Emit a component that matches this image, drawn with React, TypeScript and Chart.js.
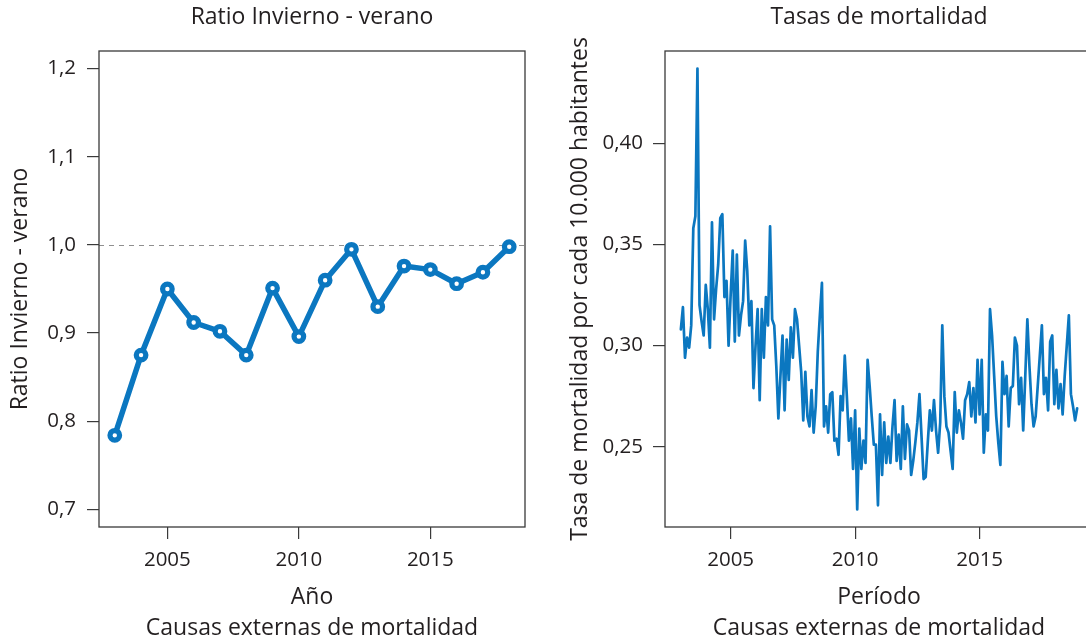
import React, { useEffect, useRef } from 'react';
import { Chart, registerables } from 'chart.js';

Chart.register(...registerables);

// ---------- data ----------
const YEARS = [2003, 2004, 2005, 2006, 2007, 2008, 2009, 2010, 2011, 2012, 2013, 2014, 2015, 2016, 2017, 2018];
const WINTER_SUMMER_RATIO = [0.784, 0.875, 0.950, 0.912, 0.902, 0.875, 0.951, 0.896, 0.960, 0.995, 0.930, 0.976, 0.972, 0.956, 0.969, 0.998];
const RATIO_TICKS = [0.7, 0.8, 0.9, 1.0, 1.1, 1.2];
const RATIO_AXIS_RANGE = [0.7, 1.2];
const REFERENCE_RATIO = 1.0;
const YEAR_TICKS = [2005, 2010, 2015];

const MONTHLY_START_YEAR = 2003;
// monthly mortality rate per 10.000 inhabitants, Jan 2003 - Dec 2018
const MORTALITY_RATE = [
  0.308, 0.319, 0.294, 0.304, 0.299, 0.310, 0.358, 0.364, 0.437, 0.320, 0.312, 0.305, // 2003
  0.330, 0.318, 0.299, 0.361, 0.313, 0.328, 0.340, 0.363, 0.365, 0.324, 0.332, 0.300, // 2004
  0.325, 0.347, 0.302, 0.345, 0.305, 0.315, 0.322, 0.352, 0.337, 0.310, 0.322, 0.279, // 2005
  0.300, 0.318, 0.273, 0.318, 0.294, 0.324, 0.310, 0.359, 0.313, 0.310, 0.290, 0.264, // 2006
  0.285, 0.305, 0.268, 0.303, 0.283, 0.309, 0.294, 0.318, 0.313, 0.300, 0.287, 0.263, // 2007
  0.287, 0.265, 0.260, 0.278, 0.257, 0.270, 0.297, 0.315, 0.331, 0.260, 0.270, 0.257, // 2008
  0.276, 0.277, 0.253, 0.254, 0.246, 0.275, 0.268, 0.295, 0.275, 0.253, 0.264, 0.239, // 2009
  0.268, 0.219, 0.259, 0.239, 0.253, 0.242, 0.293, 0.280, 0.265, 0.251, 0.251, 0.221, // 2010
  0.266, 0.236, 0.262, 0.242, 0.255, 0.242, 0.260, 0.273, 0.243, 0.256, 0.239, 0.270, // 2011
  0.244, 0.261, 0.258, 0.236, 0.243, 0.252, 0.262, 0.276, 0.255, 0.234, 0.235, 0.252, // 2012
  0.268, 0.258, 0.273, 0.258, 0.247, 0.262, 0.310, 0.275, 0.260, 0.257, 0.248, 0.239, // 2013
  0.277, 0.257, 0.268, 0.262, 0.254, 0.273, 0.276, 0.282, 0.265, 0.279, 0.262, 0.293, // 2014
  0.266, 0.293, 0.247, 0.266, 0.258, 0.318, 0.305, 0.285, 0.265, 0.252, 0.241, 0.292, // 2015
  0.276, 0.285, 0.260, 0.279, 0.280, 0.304, 0.300, 0.271, 0.284, 0.258, 0.285, 0.313, // 2016
  0.290, 0.271, 0.260, 0.265, 0.280, 0.295, 0.310, 0.276, 0.284, 0.268, 0.302, 0.305, // 2017
  0.271, 0.288, 0.269, 0.281, 0.266, 0.285, 0.300, 0.315, 0.276, 0.270, 0.263, 0.269, // 2018
];
const RATE_TICKS = [0.25, 0.30, 0.35, 0.40];

const LEFT_TITLE = 'Ratio Invierno - verano';
const LEFT_Y_TITLE = 'Ratio Invierno - verano';
const LEFT_X_TITLE = ['Año', 'Causas externas de mortalidad'];
const RIGHT_TITLE = 'Tasas de mortalidad';
const RIGHT_Y_TITLE = 'Tasa de mortalidad por cada 10.000 habitantes';
const RIGHT_X_TITLE = ['Período', 'Causas externas de mortalidad'];

// ---------- styling ----------
const BLUE = '#0b77c0';
const AXIS_COLOR = '#3a3a3a';
const TEXT_COLOR = '#231f20';
const FONT = "'Open Sans', 'DejaVu Sans', sans-serif";
const R_PAD = 0.04; // R's default axis extension

const padRange = (lo: number, hi: number) => {
  const d = (hi - lo) * R_PAD;
  return [lo - d, hi + d];
};

const boxPlugin = {
  id: 'plotBox',
  afterDatasetsDraw(chart: any) {
    const { ctx, chartArea: a } = chart;
    ctx.save();
    ctx.strokeStyle = AXIS_COLOR;
    ctx.lineWidth = 1.3;
    ctx.strokeRect(a.left, a.top, a.right - a.left, a.bottom - a.top);
    ctx.restore();
  },
};

const refLinePlugin = {
  id: 'refLine',
  beforeDatasetsDraw(chart: any, _args: any, opts: any) {
    if (!opts || opts.value == null) return;
    const { ctx, chartArea: a, scales } = chart;
    const y = Math.round(scales.y.getPixelForValue(opts.value)) + 0.5;
    ctx.save();
    ctx.strokeStyle = '#8f8f8f';
    ctx.lineWidth = 1;
    ctx.setLineDash([5, 5]);
    ctx.beginPath();
    ctx.moveTo(a.left, y);
    ctx.lineTo(a.right, y);
    ctx.stroke();
    ctx.restore();
  },
};

function buildOptions(p: {
  title: string;
  yTitle: string;
  xTitle: string[];
  xRange: number[];
  yRange: number[];
  yTicks: number[];
  yDecimals: number;
  yAxisWidth: number;
  xAxisHeight: number;
  padRight: number;
  yLabelPad: number;
  refValue?: number;
}): any {
  return {
    responsive: false,
    maintainAspectRatio: false,
    animation: false,
    layout: { padding: { left: 0, right: p.padRight, top: 0, bottom: 0 } },
    plugins: {
      legend: { display: false },
      tooltip: { enabled: false },
      title: {
        display: true,
        text: p.title,
        color: TEXT_COLOR,
        fullSize: false,
        font: { family: FONT, size: 23, weight: 'normal', lineHeight: 1.2 },
        padding: { top: 4, bottom: 19.4 },
      },
      refLine: { value: p.refValue ?? null },
    },
    scales: {
      x: {
        type: 'linear',
        position: 'bottom',
        min: p.xRange[0],
        max: p.xRange[1],
        afterBuildTicks: (s: any) => {
          s.ticks = YEAR_TICKS.map((v) => ({ value: v }));
        },
        afterFit: (s: any) => {
          s.height = p.xAxisHeight;
        },
        ticks: {
          autoSkip: false,
          maxRotation: 0,
          padding: 9,
          color: TEXT_COLOR,
          font: { family: FONT, size: 20.5 },
          callback: (v: any) => String(v),
        },
        grid: {
          display: true,
          drawOnChartArea: false,
          drawTicks: true,
          tickLength: 12,
          color: AXIS_COLOR,
          lineWidth: 1.2,
        },
        border: { display: false },
        title: {
          display: true,
          text: p.xTitle,
          color: TEXT_COLOR,
          font: { family: FONT, size: 23, lineHeight: '31px' },
          padding: { top: 0, bottom: 4.5 },
        },
      },
      y: {
        type: 'linear',
        position: 'left',
        min: p.yRange[0],
        max: p.yRange[1],
        afterBuildTicks: (s: any) => {
          s.ticks = p.yTicks.map((v) => ({ value: v }));
        },
        afterFit: (s: any) => {
          s.width = p.yAxisWidth;
        },
        ticks: {
          autoSkip: false,
          padding: p.yLabelPad,
          color: TEXT_COLOR,
          font: { family: FONT, size: 20.5 },
          callback: (v: any) => Number(v).toFixed(p.yDecimals).replace('.', ','),
        },
        grid: {
          display: true,
          drawOnChartArea: false,
          drawTicks: true,
          tickLength: 12,
          color: AXIS_COLOR,
          lineWidth: 1.2,
        },
        border: { display: false },
        title: {
          display: true,
          text: p.yTitle,
          color: TEXT_COLOR,
          font: { family: FONT, size: 23, lineHeight: 1.2 },
          padding: { top: 7, bottom: 0 },
        },
      },
    },
  };
}

export default function App() {
  const leftRef = useRef<HTMLCanvasElement>(null);
  const rightRef = useRef<HTMLCanvasElement>(null);

  useEffect(() => {
    const ratioPoints = YEARS.map((yr, i) => ({ x: yr, y: WINTER_SUMMER_RATIO[i] }));
    const ratePoints = MORTALITY_RATE.map((v, i) => ({ x: MONTHLY_START_YEAR + i / 12, y: v }));

    const leftX = padRange(YEARS[0], YEARS[YEARS.length - 1]);
    const leftY = padRange(RATIO_AXIS_RANGE[0], RATIO_AXIS_RANGE[1]);
    const rightX = padRange(ratePoints[0].x, ratePoints[ratePoints.length - 1].x);
    const rightY = padRange(Math.min(...MORTALITY_RATE), Math.max(...MORTALITY_RATE));

    const left = new Chart(leftRef.current as HTMLCanvasElement, {
      type: 'line',
      data: {
        datasets: [
          {
            data: ratioPoints,
            borderColor: BLUE,
            borderWidth: 5.5,
            borderJoinStyle: 'round',
            borderCapStyle: 'round',
            pointRadius: 4.8,
            pointBorderWidth: 5.2,
            pointBackgroundColor: '#ffffff',
            pointBorderColor: BLUE,
            tension: 0,
          },
        ],
      },
      options: buildOptions({
        title: LEFT_TITLE,
        yTitle: LEFT_Y_TITLE,
        xTitle: LEFT_X_TITLE,
        xRange: leftX,
        yRange: leftY,
        yTicks: RATIO_TICKS,
        yDecimals: 1,
        yAxisWidth: 99,
        xAxisHeight: 121,
        padRight: 18,
        yLabelPad: 11,
        refValue: REFERENCE_RATIO,
      }),
      plugins: [boxPlugin, refLinePlugin],
    } as any);

    const right = new Chart(rightRef.current as HTMLCanvasElement, {
      type: 'line',
      data: {
        datasets: [
          {
            data: ratePoints,
            borderColor: BLUE,
            borderWidth: 2.7,
            borderJoinStyle: 'round',
            borderCapStyle: 'round',
            pointRadius: 0,
            tension: 0,
          },
        ],
      },
      options: buildOptions({
        title: RIGHT_TITLE,
        yTitle: RIGHT_Y_TITLE,
        xTitle: RIGHT_X_TITLE,
        xRange: rightX,
        yRange: rightY,
        yTicks: RATE_TICKS,
        yDecimals: 2,
        yAxisWidth: 105,
        xAxisHeight: 121,
        padRight: 27,
        yLabelPad: 10,
      }),
      plugins: [boxPlugin, refLinePlugin],
    } as any);

    return () => {
      left.destroy();
      right.destroy();
    };
  }, []);

  return (
    <div
      style={{
        position: 'fixed',
        left: 0,
        top: 0,
        width: 1086,
        height: 640,
        overflow: 'hidden',
        background: '#ffffff',
      }}
    >
      <canvas
        ref={leftRef}
        width={543}
        height={648}
        style={{ position: 'absolute', left: 0, top: 0, width: 543, height: 648 }}
      />
      <canvas
        ref={rightRef}
        width={560}
        height={648}
        style={{ position: 'absolute', left: 560, top: 0, width: 560, height: 648 }}
      />
    </div>
  );
}
